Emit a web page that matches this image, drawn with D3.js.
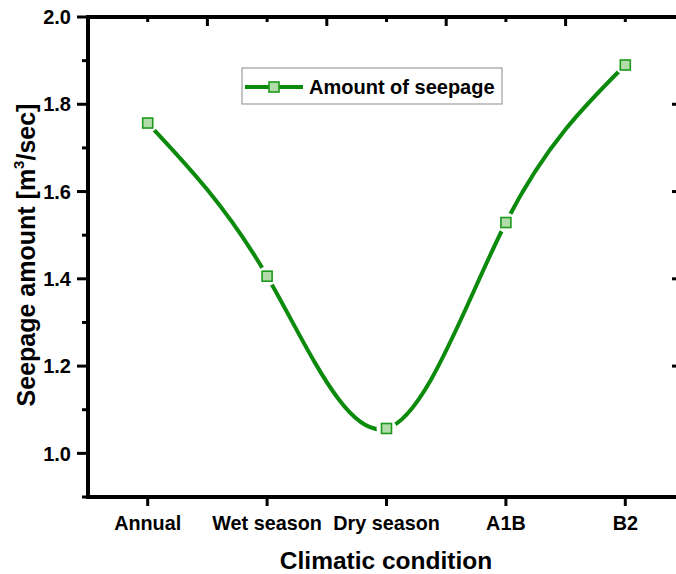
<!DOCTYPE html>
<html>
<head>
<meta charset="utf-8">
<script src="https://cdn.jsdelivr.net/npm/d3@7"></script>
<style>
  body { margin: 0; background: #fff; }
  svg { display: block; font-family: "Liberation Sans", Arial, sans-serif; font-weight: bold; }
</style>
</head>
<body>
<div id="chart"></div>
<script>
/* seepage vs climatic condition - spline line with square markers */
const categories = ['Annual', 'Wet season', 'Dry season', 'A1B', 'B2'];
const seepage = [1.757, 1.406, 1.057, 1.529, 1.890];
const yTicks = [1.0, 1.2, 1.4, 1.6, 1.8, 2.0];
const yMinor = [0.9, 1.1, 1.3, 1.5, 1.7, 1.9];
const rightTicks = [1.2, 1.4, 1.6, 1.8];
const seriesName = 'Amount of seepage';

const W = 676, H = 574;
const pLeft = 88, pRight = 685, pTop = 17, pBottom = 497;
const lineColor = '#0b8a0b';

const svg = d3.select('#chart').append('svg').attr('width', W).attr('height', H);

const x = d3.scalePoint().domain(categories).range([pLeft, pRight]).padding(0.5);
const y = d3.scaleLinear().domain([0.9, 2.0]).range([pBottom, pTop]);
const step = x.step();

// frame lines
const frame = svg.append('g').attr('stroke', '#000').attr('stroke-width', 4).attr('fill', 'none');
frame.append('line').attr('x1', pLeft - 2).attr('x2', W + 10).attr('y1', pTop).attr('y2', pTop);
frame.append('line').attr('x1', pLeft - 2).attr('x2', W + 10).attr('y1', pBottom).attr('y2', pBottom);
frame.append('line').attr('x1', pLeft).attr('x2', pLeft).attr('y1', pTop - 2).attr('y2', pBottom + 2);

// left axis ticks (outward)
const ticks = svg.append('g').attr('stroke', '#000').attr('stroke-width', 3);
ticks.selectAll('.ymaj').data(yTicks).join('line')
  .attr('x1', pLeft - 11).attr('x2', pLeft).attr('y1', d => y(d)).attr('y2', d => y(d));
ticks.selectAll('.ymin').data(yMinor).join('line')
  .attr('x1', pLeft - 6).attr('x2', pLeft).attr('y1', d => y(d)).attr('y2', d => y(d));

// bottom ticks at categories (outward)
ticks.selectAll('.xb').data(categories).join('line')
  .attr('x1', d => x(d)).attr('x2', d => x(d)).attr('y1', pBottom).attr('y2', pBottom + 9);

// top ticks (inward): short at categories, longer between
ticks.selectAll('.xt').data(categories).join('line')
  .attr('x1', d => x(d)).attr('x2', d => x(d)).attr('y1', pTop).attr('y2', pTop + 5);
ticks.selectAll('.xt2').data(categories.slice(0, -1)).join('line')
  .attr('x1', d => x(d) + step / 2).attr('x2', d => x(d) + step / 2).attr('y1', pTop).attr('y2', pTop + 9);

// right axis sits just outside the picture; only its inward ticks show
ticks.selectAll('.yr').data(rightTicks).join('line')
  .attr('x1', pRight - 13).attr('x2', pRight).attr('y1', d => y(d)).attr('y2', d => y(d));

// tick labels
svg.append('g').selectAll('text').data(yTicks).join('text')
  .attr('x', 71).attr('y', d => y(d)).attr('dy', '0.36em')
  .attr('text-anchor', 'end').attr('font-size', 20).text(d => d.toFixed(1));

svg.append('g').selectAll('text').data(categories).join('text')
  .attr('x', d => x(d)).attr('y', 530)
  .attr('text-anchor', 'middle').attr('font-size', 19.8).text(d => d);

// axis titles
svg.append('text').attr('x', 386).attr('y', 569).attr('text-anchor', 'middle')
  .attr('font-size', 24.5).text('Climatic condition');

const yt = svg.append('text').attr('transform', 'translate(35,255) rotate(-90)')
  .attr('text-anchor', 'middle').attr('font-size', 25);
yt.append('tspan').text('Seepage amount [m');
yt.append('tspan').attr('font-size', 15).attr('dy', -11).text('3');
yt.append('tspan').attr('dy', 11).text('/sec]');

// series line
const pts = categories.map((c, i) => [x(c), y(seepage[i])]);
svg.append('path').datum(pts)
  .attr('d', d3.line().curve(d3.curveNatural))
  .attr('fill', 'none').attr('stroke', lineColor).attr('stroke-width', 4);

// gap around markers
svg.append('g').selectAll('circle').data(pts).join('circle')
  .attr('cx', d => d[0]).attr('cy', d => d[1]).attr('r', 10).attr('fill', '#fff');

svg.append('g').selectAll('rect').data(pts).join('rect')
  .attr('x', d => d[0] - 5).attr('y', d => d[1] - 5).attr('width', 10).attr('height', 10)
  .attr('fill', '#b3dcab').attr('stroke', '#1c9a1c').attr('stroke-width', 1.6);

// legend
const lg = svg.append('g');
lg.append('rect').attr('x', 242).attr('y', 68).attr('width', 260).attr('height', 36)
  .attr('fill', '#fff').attr('stroke', '#8a8a8a').attr('stroke-width', 1);
lg.append('line').attr('x1', 245).attr('x2', 303).attr('y1', 87).attr('y2', 87)
  .attr('stroke', lineColor).attr('stroke-width', 4);
lg.append('rect').attr('x', 269).attr('y', 82).attr('width', 10).attr('height', 10)
  .attr('fill', '#b3dcab').attr('stroke', '#1c9a1c').attr('stroke-width', 1.6);
lg.append('text').attr('x', 309).attr('y', 94).attr('font-size', 20).text(seriesName);
</script>
</body>
</html>
